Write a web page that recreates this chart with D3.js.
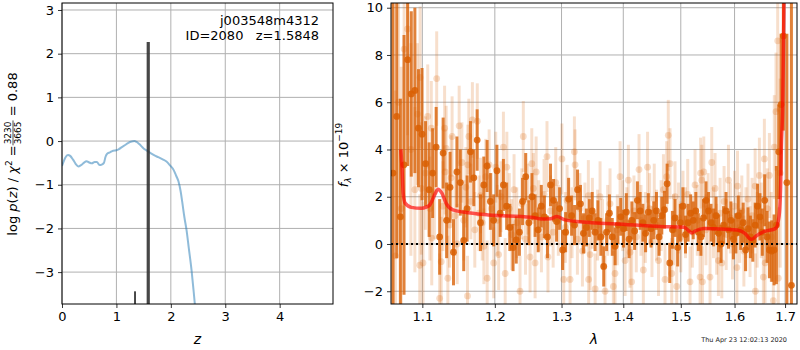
<!DOCTYPE html>
<html>
<head>
<meta charset="utf-8">
<script src="https://cdn.jsdelivr.net/npm/d3@7"></script>
<style>
  body { margin: 0; background: #fff; }
  svg { font-family: "DejaVu Sans", sans-serif; }
</style>
</head>
<body>
<script>
// ---- left panel: log p(z) ----
const zTicks = [0, 1, 2, 3, 4];
const pzTicks = [-3, -2, -1, 0, 1, 2, 3];

// log p(z) curve (z, value)
const pzCurve = [
  [0.00, -0.57], [0.02, -0.50], [0.06, -0.38], [0.11, -0.32], [0.15, -0.34], [0.20, -0.42],
  [0.25, -0.52], [0.30, -0.58], [0.35, -0.55], [0.40, -0.50], [0.45, -0.46], [0.50, -0.49],
  [0.55, -0.51], [0.60, -0.48], [0.64, -0.48], [0.69, -0.55], [0.73, -0.54], [0.77, -0.50],
  [0.80, -0.36], [0.83, -0.29], [0.88, -0.26], [0.94, -0.22], [1.00, -0.21], [1.04, -0.19],
  [1.10, -0.14], [1.16, -0.09], [1.22, -0.04], [1.28, -0.01], [1.33, 0.00], [1.37, -0.02],
  [1.42, -0.07], [1.50, -0.17], [1.56, -0.22], [1.62, -0.27], [1.70, -0.33], [1.77, -0.37],
  [1.85, -0.42], [1.92, -0.47], [1.98, -0.55], [2.05, -0.66], [2.10, -0.80], [2.14, -0.92],
  [2.18, -1.15], [2.21, -1.40], [2.25, -1.75], [2.29, -2.05], [2.33, -2.45], [2.38, -2.95],
  [2.42, -3.45], [2.45, -3.85]
];
// posterior spikes (z, top value)
const spikeZ = [1.342, 1.585];
const spikeTop = [-3.44, 2.27];
const spikeWidth = [2, 3.2];

// ---- right panel: spectrum ----
const lamTicks = [1.1, 1.2, 1.3, 1.4, 1.5, 1.6, 1.7];
const fluxTicks = [-2, 0, 2, 4, 6, 8, 10];

// [lambda (um), flux, error]  -- main beam
const darkPoints = [
  [1.0620, 3.0, 9.0], [1.0667, 5.4, 6.0], [1.0714, 1.15, 5.0], [1.0761, 3.35, 5.5], [1.0808, 7.8, 4.5],
  [1.0855, 6.35, 3.5], [1.0902, 6.5, 3.5], [1.0949, 4.9, 2.5], [1.0996, 4.65, 2.8],
  [1.1043, 3.4, 1.8], [1.1090, 2.3, 2.0], [1.1137, 3.0, 1.9], [1.1184, 4.1, 1.7], [1.1231, 0.3, 1.6],
  [1.1278, 3.85, 1.5], [1.1325, 1.0, 1.6], [1.1372, 2.4, 1.5], [1.1419, -0.35, 1.4], [1.1466, 3.05, 1.5],
  [1.1513, 2.6, 1.4], [1.1560, 0.15, 1.3], [1.1607, 1.5, 1.4], [1.1654, 3.9, 1.3], [1.1701, 2.8, 1.2],
  [1.1748, 4.4, 1.3], [1.1795, 0.9, 1.2], [1.1842, 2.5, 1.2], [1.1889, 3.3, 1.1], [1.1936, 1.8, 1.2],
  [1.1983, 1.0, 1.1], [1.2030, 3.1, 1.1], [1.2077, 1.3, 1.0], [1.2124, 2.5, 1.1], [1.2171, 1.6, 1.0],
  [1.2218, 0.7, 1.0], [1.2265, -0.15, 1.0], [1.2312, 0.17, 1.0], [1.2359, 0.5, 1.0], [1.2406, 1.8, 1.0],
  [1.2453, 2.85, 1.0], [1.2500, 0.9, 0.95], [1.2547, 2.0, 1.0], [1.2594, 1.2, 0.9], [1.2641, 0.6, 0.95],
  [1.2688, 1.6, 0.9], [1.2735, 1.15, 0.9], [1.2782, 0.3, 0.9], [1.2829, 2.5, 0.9], [1.2876, 1.85, 0.9],
  [1.2923, 0.95, 0.85], [1.2970, 1.5, 0.9], [1.3017, -0.25, 0.85], [1.3064, 0.5, 0.85], [1.3111, 1.9, 0.9],
  [1.3158, 1.2, 0.85], [1.3205, 0.8, 0.85], [1.3252, 2.3, 0.85], [1.3299, 1.7, 0.8], [1.3346, 0.45, 0.85],
  [1.3393, 0.7, 0.8], [1.3440, 1.1, 0.8], [1.3487, 1.4, 0.8], [1.3534, 0.5, 0.8], [1.3581, 1.0, 0.85],
  [1.3628, 0.3, 0.8], [1.3675, -0.95, 0.85], [1.3722, 0.5, 0.8], [1.3769, 1.3, 0.8], [1.3816, 0.3, 0.8],
  [1.3863, -0.1, 0.8], [1.3910, 0.8, 0.8], [1.3957, 1.15, 0.8], [1.4004, 0.65, 0.8], [1.4051, 1.35, 0.8],
  [1.4098, 0.2, 0.8], [1.4145, 1.0, 0.8], [1.4192, 0.55, 0.8], [1.4239, 1.85, 0.8], [1.4286, 1.4, 0.8],
  [1.4333, 0.9, 0.8], [1.4380, 0.45, 0.8], [1.4427, 1.35, 0.8], [1.4474, 0.65, 0.8], [1.4521, 1.0, 0.8],
  [1.4568, 1.4, 0.8], [1.4615, 0.3, 0.8], [1.4662, 1.2, 0.8], [1.4709, 1.45, 0.8], [1.4756, 2.55, 0.85],
  [1.4803, -0.8, 0.85], [1.4850, 0.6, 0.8], [1.4897, 1.1, 0.8], [1.4944, -0.15, 0.8], [1.4991, 0.9, 0.8],
  [1.5038, 1.6, 0.8], [1.5085, 0.4, 0.8], [1.5132, 0.9, 0.8], [1.5179, 1.3, 0.8], [1.5226, 1.0, 0.8],
  [1.5273, 1.4, 0.8], [1.5320, 0.5, 0.8], [1.5367, 0.3, 0.8], [1.5414, 1.1, 0.8], [1.5461, 1.85, 0.8],
  [1.5508, 1.4, 0.8], [1.5555, 0.9, 0.8], [1.5602, 0.7, 0.8], [1.5649, 1.2, 0.8], [1.5696, 0.45, 0.8],
  [1.5743, 0.0, 0.8], [1.5790, 0.8, 0.8], [1.5837, 1.4, 0.8], [1.5884, 0.6, 0.8], [1.5931, 1.0, 0.8],
  [1.5978, 0.2, 0.85], [1.6025, 0.45, 0.85], [1.6072, 1.2, 0.85], [1.6119, 0.6, 0.85], [1.6166, 0.9, 0.85],
  [1.6213, -0.25, 0.9], [1.6260, 0.65, 0.9], [1.6307, 0.3, 0.9], [1.6354, 0.15, 0.9], [1.6401, 0.8, 0.95],
  [1.6448, 1.6, 0.95], [1.6495, 1.15, 1.0], [1.6542, 0.5, 1.0], [1.6589, 1.85, 1.1], [1.6636, 0.3, 1.1],
  [1.6683, -0.25, 1.2], [1.6730, -0.3, 1.3], [1.6777, -0.25, 1.5], [1.6824, 0.8, 2.5], [1.6871, 3.9, 2.0],
  [1.6918, 5.9, 3.0], [1.6965, 8.8, 4.0], [1.7037, 2.6, 6.3], [1.7130, -1.75, 15.0]
];

// [lambda (um), flux, error]  -- other beams
const lightPoints = [
  [1.0610, 3.0, 8], [1.0650, -0.5, 7], [1.0690, 6.0, 6], [1.0725, 1.5, 6], [1.0762, 8.25, 5],
  [1.0806, 9.1, 4.5], [1.0850, 4.0, 4.5], [1.0902, 2.3, 3.5], [1.0935, 5.5, 3], [1.0966, -0.9, 3],
  [1.0970, 7.05, 3], [1.0987, 2.35, 2.8], [1.1009, -0.8, 2.6], [1.1040, 3.0, 2.4], [1.1071, 5.4, 2.2],
  [1.1100, 1.5, 2.2], [1.1119, 4.9, 2.0], [1.1125, 0.25, 2.0], [1.1160, 2.2, 2.0], [1.1191, 7.0, 2.0],
  [1.1231, -2.3, 1.9], [1.1252, -0.75, 1.9], [1.1275, 1.6, 1.9], [1.1298, 4.9, 1.8], [1.1305, 3.05, 1.8],
  [1.1319, 4.05, 1.8], [1.1342, -1.45, 1.8], [1.1365, 0.8, 1.8], [1.1386, 2.8, 1.8], [1.1400, 4.55, 1.7],
  [1.1440, 1.2, 1.7], [1.1470, 0.0, 1.7], [1.1497, 5.0, 1.7], [1.1535, 3.45, 1.7], [1.1560, 1.0, 1.7],
  [1.1590, 2.4, 1.7], [1.1613, -2.2, 1.7], [1.1617, 3.35, 1.7], [1.1631, 4.55, 1.6], [1.1660, 1.8, 1.6],
  [1.1681, 5.25, 1.6], [1.1715, 0.6, 1.6], [1.1750, 5.2, 1.6], [1.1775, 1.3, 1.6], [1.1796, 2.05, 1.6],
  [1.1820, 0.9, 1.6], [1.1843, -0.1, 1.6], [1.1870, 2.85, 1.6], [1.1890, -1.45, 1.6], [1.1918, 3.35, 1.5],
  [1.1950, 1.5, 1.5], [1.1984, -0.8, 1.5], [1.2013, 3.25, 1.5], [1.2035, 1.0, 1.5], [1.2055, -0.45, 1.5],
  [1.2090, 2.0, 1.5], [1.2124, 4.1, 1.5], [1.2150, -1.25, 1.5], [1.2174, 3.25, 1.5], [1.2210, 1.5, 1.5],
  [1.2246, 0.4, 1.5], [1.2280, 2.3, 1.5], [1.2320, 0.9, 1.5], [1.2368, -2.0, 1.5], [1.2395, 1.7, 1.5],
  [1.2417, 4.55, 1.5], [1.2450, 0.2, 1.5], [1.2485, 1.9, 1.5], [1.2518, -0.55, 1.5], [1.2544, 3.4, 1.5],
  [1.2568, 2.35, 1.5], [1.2594, -0.8, 1.5], [1.2610, 3.05, 1.5], [1.2650, 1.2, 1.5], [1.2690, 0.3, 1.5],
  [1.2730, 2.1, 1.5], [1.2775, 3.7, 1.5], [1.2790, -0.55, 1.5], [1.2830, 1.4, 1.5], [1.2870, 0.5, 1.5],
  [1.2910, 2.6, 1.5], [1.2950, 1.0, 1.5], [1.3006, 3.6, 1.5], [1.3034, -1.5, 1.5], [1.3060, 0.7, 1.5],
  [1.3087, 1.85, 1.5], [1.3134, -1.5, 1.5], [1.3165, 0.9, 1.5], [1.3202, 3.9, 1.5], [1.3213, 3.35, 1.5],
  [1.3250, 0.2, 1.5], [1.3290, 1.5, 1.5], [1.3330, -0.3, 1.5], [1.3370, 1.1, 1.5], [1.3425, 2.05, 1.5],
  [1.3430, -1.5, 1.5], [1.3453, -0.45, 1.5], [1.3490, 1.3, 1.5], [1.3535, -1.9, 1.5], [1.3575, 0.8, 1.5],
  [1.3615, 2.0, 1.5], [1.3655, 0.4, 1.5], [1.3697, -2.0, 1.5], [1.3740, 1.0, 1.5], [1.3779, 1.7, 1.5],
  [1.3834, -1.8, 1.5], [1.3862, -1.25, 1.5], [1.3900, 0.6, 1.5], [1.3946, 2.85, 1.5], [1.3990, 1.2, 1.5],
  [1.4030, -0.7, 1.5], [1.4060, 0.9, 1.5], [1.4086, 2.7, 1.5], [1.4114, -0.35, 1.5], [1.4142, -1.6, 1.5],
  [1.4180, 1.4, 1.5], [1.4220, 0.3, 1.5], [1.4267, 3.15, 1.5], [1.4300, 1.0, 1.5], [1.4341, -1.1, 1.5],
  [1.4375, 0.7, 1.5], [1.4414, 3.25, 1.5], [1.4450, 1.5, 1.5], [1.4490, 0.1, 1.5], [1.4530, 1.9, 1.5],
  [1.4570, 0.8, 1.5], [1.4604, -0.7, 1.5], [1.4650, 1.2, 1.5], [1.4691, 2.3, 1.5], [1.4719, -1.5, 1.5],
  [1.4749, 2.85, 1.5], [1.4777, 4.6, 1.5], [1.4808, 3.4, 1.5], [1.4838, -1.25, 1.5], [1.4870, 0.6, 1.5],
  [1.4897, 2.0, 1.5], [1.4927, -1.8, 1.5], [1.4960, 1.1, 1.5], [1.5000, 0.3, 1.5], [1.5040, 1.6, 1.5],
  [1.5085, 0.9, 1.5], [1.5125, 2.1, 1.5], [1.5168, -1.6, 1.5], [1.5210, 0.5, 1.5], [1.5259, 2.5, 1.5],
  [1.5300, 1.0, 1.5], [1.5351, -1.4, 1.5], [1.5360, 3.0, 1.5], [1.5382, 2.7, 1.5], [1.5395, -1.6, 1.5],
  [1.5420, 3.05, 1.5], [1.5460, 0.6, 1.5], [1.5500, 1.5, 1.5], [1.5536, -1.4, 1.5], [1.5568, 3.45, 1.5],
  [1.5600, 0.9, 1.5], [1.5630, 2.35, 1.5], [1.5660, 0.2, 1.5], [1.5693, -0.7, 1.5], [1.5725, 1.3, 1.5],
  [1.5757, -0.8, 1.5], [1.5800, 1.8, 1.5], [1.5840, 0.4, 1.5], [1.5883, 2.7, 1.5], [1.5920, 1.1, 1.5],
  [1.5960, 0.0, 1.5], [1.6000, 1.6, 1.5], [1.6045, -1.0, 1.5], [1.6057, 2.45, 1.5], [1.6100, 0.7, 1.5],
  [1.6140, 1.4, 1.5], [1.6180, -0.3, 1.5], [1.6220, 0.9, 1.5], [1.6260, 1.9, 1.5], [1.6300, 0.1, 1.5],
  [1.6340, 1.2, 1.6], [1.6400, 2.45, 1.6], [1.6405, -2.0, 1.6], [1.6440, 0.6, 1.6], [1.6484, 2.9, 1.6],
  [1.6520, 1.0, 1.6], [1.6563, -1.4, 1.7], [1.6583, 3.6, 1.7], [1.6597, -0.8, 1.7], [1.6640, 1.5, 1.7],
  [1.6683, 2.9, 1.8], [1.6720, 0.3, 1.9], [1.6762, -2.4, 2.0], [1.6782, 4.1, 2.2], [1.6816, 5.6, 2.5],
  [1.6850, 8.6, 3.0], [1.6862, -1.45, 3.0], [1.6900, 3.0, 4.0]
];

// best-fit model (lambda, flux)
const modelLine = [
  [1.0720, 4.0], [1.0735, 3.2], [1.0750, 2.15], [1.0775, 1.73], [1.0856, 1.55], [1.0987, 1.51],
  [1.1050, 1.56], [1.1098, 1.65], [1.1164, 2.08], [1.1208, 2.32], [1.1261, 2.15], [1.1319, 1.72],
  [1.1411, 1.44], [1.1572, 1.34], [1.1909, 1.23], [1.2532, 1.13], [1.2700, 1.06], [1.2830, 1.07],
  [1.2926, 1.16], [1.3055, 1.02], [1.3481, 0.90], [1.4031, 0.83], [1.4632, 0.74], [1.5058, 0.71],
  [1.5150, 0.55], [1.5200, 0.47], [1.5260, 0.55], [1.5424, 0.66], [1.6053, 0.59], [1.6200, 0.45],
  [1.6300, 0.22], [1.6340, 0.20], [1.6420, 0.34], [1.6575, 0.52], [1.6811, 0.66], [1.6877, 1.16],
  [1.6911, 2.57], [1.6923, 3.98], [1.6951, 5.8], [1.6978, 10.2], [1.6990, 12.0]
];

const specColor = "#d95f02";
const gridColor = "#b0b0b0";
const tickFont = 13;

const width = 800, height = 350;
const svg = d3.select("body").append("svg")
    .attr("width", width)
    .attr("height", height);

const defs = svg.append("defs");

function frame(box, id) {
  defs.append("clipPath").attr("id", id)
    .append("rect").attr("x", box.x0).attr("y", box.y0)
    .attr("width", box.x1 - box.x0).attr("height", box.y1 - box.y0);
}

function gridAndAxes(box, x, y, xt, yt, xfmt, yfmt) {
  const g = svg.append("g");
  g.selectAll(".vg").data(xt).join("line")
      .attr("x1", d => x(d)).attr("x2", d => x(d))
      .attr("y1", box.y0).attr("y2", box.y1)
      .attr("stroke", gridColor).attr("stroke-width", 1);
  g.selectAll(".hg").data(yt).join("line")
      .attr("x1", box.x0).attr("x2", box.x1)
      .attr("y1", d => y(d)).attr("y2", d => y(d))
      .attr("stroke", gridColor).attr("stroke-width", 1);
}

function axesOnTop(box, x, y, xt, yt, xfmt, yfmt) {
  const ax = svg.append("g")
      .attr("transform", `translate(0,${box.y1})`)
      .call(d3.axisBottom(x).tickValues(xt).tickFormat(xfmt).tickSize(4).tickPadding(4));
  const ay = svg.append("g")
      .attr("transform", `translate(${box.x0},0)`)
      .call(d3.axisLeft(y).tickValues(yt).tickFormat(yfmt).tickSize(4).tickPadding(4));
  [ax, ay].forEach(a => {
    a.select(".domain").remove();
    a.selectAll("text").attr("font-size", tickFont).attr("fill", "#000")
      .attr("font-family", "DejaVu Sans");
    a.selectAll("line").attr("stroke", "#000").attr("stroke-width", 0.8);
  });
  svg.append("rect")
      .attr("x", box.x0).attr("y", box.y0)
      .attr("width", box.x1 - box.x0).attr("height", box.y1 - box.y0)
      .attr("fill", "none").attr("stroke", "#000").attr("stroke-width", 1);
}

const minusFmt = d => d < 0 ? "\u2212" + Math.abs(d) : String(d);

// ================= left panel =================
const boxL = {x0: 62, x1: 333, y0: 3, y1: 304};
const zx = d3.scaleLinear().domain([0, 4.98]).range([boxL.x0, boxL.x1]);
const py = d3.scaleLinear().domain([-3.73, 3.16]).range([boxL.y1, boxL.y0]);
frame(boxL, "clipL");
gridAndAxes(boxL, zx, py, zTicks, pzTicks);

const gL = svg.append("g").attr("clip-path", "url(#clipL)");
gL.append("path")
    .datum(pzCurve)
    .attr("fill", "none")
    .attr("stroke", "#1f77b4")
    .attr("stroke-opacity", 0.5)
    .attr("stroke-width", 2)
    .attr("d", d3.line().x(d => zx(d[0])).y(d => py(d[1])).curve(d3.curveMonotoneX));

gL.selectAll(".spike").data(spikeZ).join("line")
    .attr("x1", d => zx(d)).attr("x2", d => zx(d))
    .attr("y1", boxL.y1)
    .attr("y2", (d, i) => py(spikeTop[i]))
    .attr("stroke", "#333")
    .attr("stroke-opacity", 0.9)
    .attr("stroke-width", (d, i) => spikeWidth[i]);

axesOnTop(boxL, zx, py, zTicks, pzTicks, d3.format("d"), minusFmt);

svg.append("text").attr("x", 319).attr("y", 25)
    .attr("text-anchor", "end").attr("font-size", 13)
    .text("j003548m4312");
svg.append("text").attr("x", 319).attr("y", 40)
    .attr("text-anchor", "end").attr("font-size", 13)
    .style("white-space", "pre")
    .text("ID=2080   z=1.5848");

svg.append("text")
    .attr("x", (boxL.x0 + boxL.x1) / 2).attr("y", 344)
    .attr("text-anchor", "middle").attr("font-size", 14)
    .attr("font-style", "italic")
    .text("z");

// y label with stacked fraction, rotated
{
  const g = svg.append("g").attr("transform", "translate(17,154) rotate(-90)");
  const pre = g.append("text").attr("font-size", 13).attr("y", 0);
  pre.append("tspan").text("log ");
  pre.append("tspan").attr("font-style", "italic").text("p");
  pre.append("tspan").text("(");
  pre.append("tspan").attr("font-style", "italic").text("z");
  pre.append("tspan").text(") / ");
  pre.append("tspan").attr("font-style", "italic").text("\u03c7");
  pre.append("tspan").attr("font-size", 9).attr("dy", -5).text("2");
  pre.append("tspan").attr("dy", 5).text(" = ");
  const num = g.append("text").attr("font-size", 9).attr("text-anchor", "middle").text("3230");
  const den = g.append("text").attr("font-size", 9).attr("text-anchor", "middle").text("3665");
  const post = g.append("text").attr("font-size", 13).style("white-space", "pre").text(" = 0.88");
  const w1 = pre.node().getComputedTextLength();
  const wf = Math.max(num.node().getComputedTextLength(), den.node().getComputedTextLength()) + 2;
  const w3 = post.node().getComputedTextLength();
  const total = w1 + wf + w3;
  let x0 = -total / 2;
  pre.attr("x", x0);
  num.attr("x", x0 + w1 + wf / 2).attr("y", -6);
  den.attr("x", x0 + w1 + wf / 2).attr("y", 4);
  g.append("line")
      .attr("x1", x0 + w1).attr("x2", x0 + w1 + wf)
      .attr("y1", -4).attr("y2", -4)
      .attr("stroke", "#000").attr("stroke-width", 0.7);
  post.attr("x", x0 + w1 + wf);
}

// ================= right panel =================
const boxR = {x0: 391, x1: 797, y0: 3, y1: 304};
const lx = d3.scaleLog().domain([1.0594, 1.7245]).range([boxR.x0, boxR.x1]);
const fy = d3.scaleLinear().domain([-2.54, 10.2]).range([boxR.y1, boxR.y0]);
frame(boxR, "clipR");
gridAndAxes(boxR, lx, fy, lamTicks, fluxTicks);

const gR = svg.append("g").attr("clip-path", "url(#clipR)");

function drawPoints(pts, barOpacity, dotOpacity) {
  const g = gR.append("g");
  g.selectAll("line").data(pts).join("line")
      .attr("x1", d => lx(d[0])).attr("x2", d => lx(d[0]))
      .attr("y1", d => fy(d[1] - d[2])).attr("y2", d => fy(d[1] + d[2]))
      .attr("stroke", specColor)
      .attr("stroke-opacity", barOpacity)
      .attr("stroke-width", 3);
  g.selectAll("circle").data(pts).join("circle")
      .attr("cx", d => lx(d[0])).attr("cy", d => fy(d[1]))
      .attr("r", 3.4)
      .attr("fill", specColor)
      .attr("fill-opacity", dotOpacity);
}

drawPoints(lightPoints, 0.2, 0.22);
drawPoints(darkPoints, 0.78, 0.85);

gR.append("line")
    .attr("x1", boxR.x0).attr("x2", boxR.x1)
    .attr("y1", fy(0)).attr("y2", fy(0))
    .attr("stroke", "#000").attr("stroke-width", 1.8)
    .attr("stroke-dasharray", "2,3");

gR.append("path")
    .datum(modelLine)
    .attr("fill", "none")
    .attr("stroke", "#ff0000")
    .attr("stroke-opacity", 0.65)
    .attr("stroke-width", 3.5)
    .attr("stroke-linejoin", "round")
    .attr("d", d3.line().x(d => lx(d[0])).y(d => fy(d[1])).curve(d3.curveMonotoneX));

axesOnTop(boxR, lx, fy, lamTicks, fluxTicks, d3.format(".1f"), minusFmt);

svg.append("text")
    .attr("x", (boxR.x0 + boxR.x1) / 2).attr("y", 344)
    .attr("text-anchor", "middle").attr("font-size", 14)
    .attr("font-style", "italic")
    .text("\u03bb");

{
  const t = svg.append("text")
      .attr("transform", "translate(348,155) rotate(-90)")
      .attr("text-anchor", "middle")
      .attr("font-size", 13);
  t.append("tspan").attr("font-style", "italic").text("f");
  t.append("tspan").attr("font-size", 9).attr("font-style", "italic").attr("dy", 3).text("\u03bb");
  t.append("tspan").attr("dy", -3).text(" \u00d7 10");
  t.append("tspan").attr("font-size", 9).attr("dy", -6).text("\u221219");
}

svg.append("text")
    .attr("x", 787).attr("y", 342)
    .attr("text-anchor", "end")
    .attr("font-size", 6.5)
    .attr("fill", "#222")
    .text("Thu Apr 23 12:02:13 2020");
</script>
</body>
</html>
